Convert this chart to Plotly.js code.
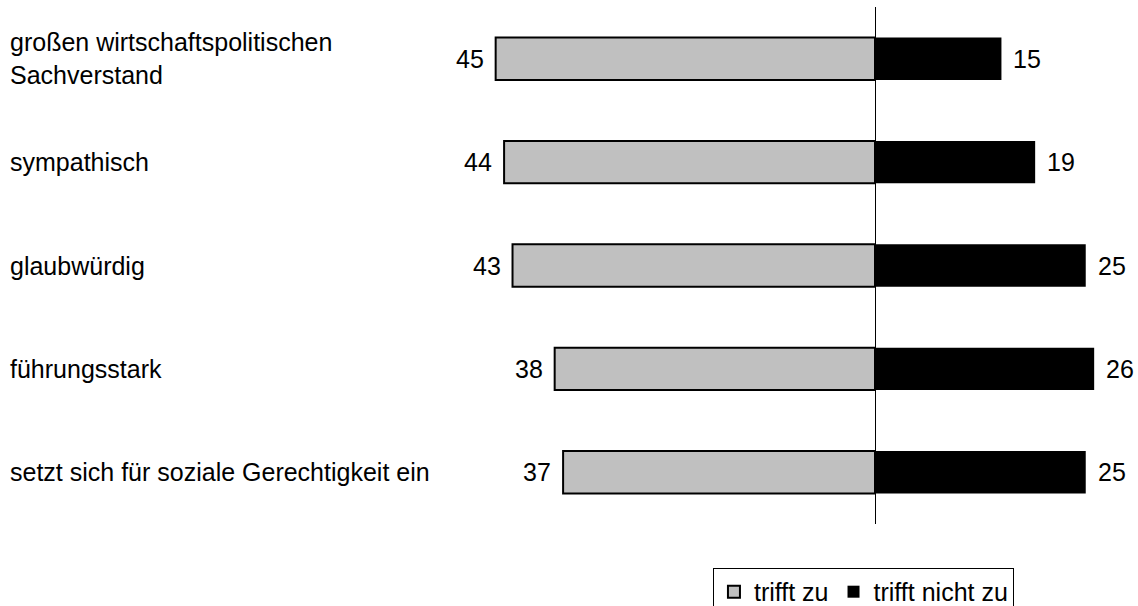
<!DOCTYPE html>
<html>
<head>
<meta charset="utf-8">
<script src="https://cdn.plot.ly/plotly-3.0.1.min.js"></script>
<style>
  html, body { margin: 0; padding: 0; background: #ffffff; }
  #chart { width: 1138px; height: 606px; }
</style>
</head>
<body>
<div id="chart"></div>
<script>
// ---- data ----
const categories = [
  "großen wirtschaftspolitischen<br>Sachverstand",
  "sympathisch",
  "glaubwürdig",
  "führungsstark",
  "setzt sich für soziale Gerechtigkeit ein"
];
const trifftZu = [45, 44, 43, 38, 37];
const trifftNichtZu = [15, 19, 25, 26, 25];
const seriesNames = ["trifft zu", "trifft nicht zu"];

const FONT = "Liberation Sans, Arial, sans-serif";

const traces = [
  {
    type: "bar",
    orientation: "h",
    name: seriesNames[0],
    y: categories,
    x: trifftZu.map(v => -v),
    width: 0.41,
    marker: { color: "#c0c0c0", line: { color: "#000000", width: 2 } },
    hoverinfo: "skip"
  },
  {
    type: "bar",
    orientation: "h",
    name: seriesNames[1],
    y: categories,
    x: trifftNichtZu,
    width: 0.41,
    marker: { color: "#000000", line: { color: "#000000", width: 0 } },
    hoverinfo: "skip"
  }
];

const annotations = [];
categories.forEach((c, i) => {
  annotations.push({
    xref: "paper", yref: "y", x: 0, y: c, xanchor: "left", yanchor: "middle",
    xshift: 8, align: "left", showarrow: false, text: c,
    font: { family: FONT, size: 25, color: "#000000" }
  });
  annotations.push({
    xref: "x", yref: "y", x: -trifftZu[i], y: c, xanchor: "right", yanchor: "middle",
    xshift: -10, showarrow: false, text: String(trifftZu[i]),
    font: { family: FONT, size: 25, color: "#000000" }
  });
  annotations.push({
    xref: "x", yref: "y", x: trifftNichtZu[i], y: c, xanchor: "left", yanchor: "middle",
    xshift: 10, showarrow: false, text: String(trifftNichtZu[i]),
    font: { family: FONT, size: 25, color: "#000000" }
  });
});

const layout = {
  width: 1138,
  height: 606,
  margin: { l: 0, r: 0, t: 7, b: 82, pad: 0, autoexpand: false },
  paper_bgcolor: "#ffffff",
  plot_bgcolor: "#ffffff",
  font: { family: FONT, size: 25, color: "#000000" },
  barmode: "relative",
  showlegend: true,
  legend: {
    orientation: "h",
    x: 0.6265, xanchor: "left",
    y: -0.085, yanchor: "top",
    bordercolor: "#000000", borderwidth: 1,
    bgcolor: "#ffffff",
    font: { family: FONT, size: 25, color: "#000000" },
    traceorder: "normal"
  },
  xaxis: {
    range: [-103.8, 31.2],
    showgrid: false,
    showticklabels: false,
    ticks: "",
    showline: false,
    zeroline: true,
    zerolinecolor: "#000000",
    zerolinewidth: 1,
    fixedrange: true
  },
  yaxis: {
    type: "category",
    categoryorder: "array",
    categoryarray: categories,
    range: [4.5, -0.5],
    showgrid: false,
    showticklabels: false,
    ticks: "",
    showline: false,
    zeroline: false,
    fixedrange: true
  },
  annotations: annotations
};

Plotly.newPlot("chart", traces, layout, { displayModeBar: false, staticPlot: true });
</script>
</body>
</html>
